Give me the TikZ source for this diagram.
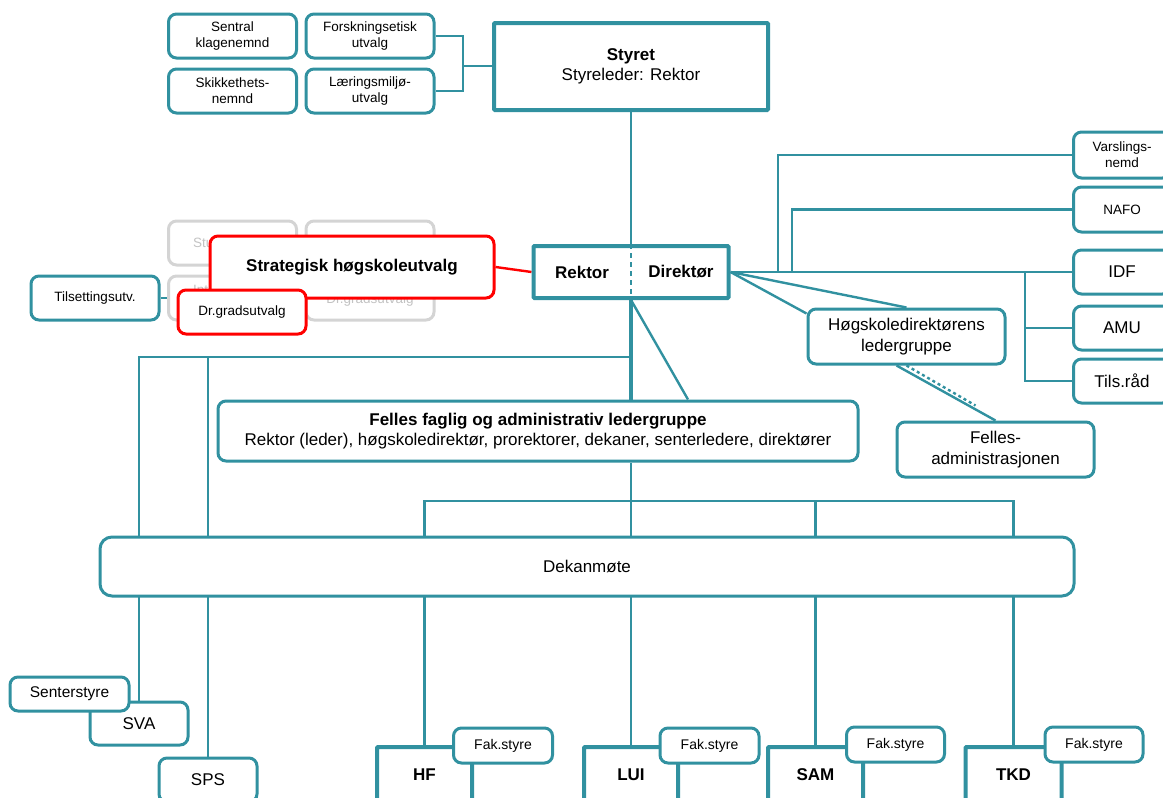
\documentclass[tikz,border=0pt]{standalone}
\usepackage{fontspec}
\setmainfont{Liberation Sans}
\usetikzlibrary{backgrounds}
\definecolor{hteal}{RGB}{49,145,160}
\definecolor{gline}{RGB}{212,212,212}
\definecolor{gtext}{RGB}{195,195,195}

\begin{document}
\begin{tikzpicture}[x=1pt, y=-1pt,
    every node/.style={font=\fontsize{17}{20.5}\selectfont, align=center},
    bx/.style={draw=hteal, line width=3pt, rounded corners=8pt, fill=white, minimum width=128pt, minimum height=44pt, inner sep=1pt},
    sm/.style={font=\fontsize{13.5}{16}\selectfont},
    thk/.style={draw=hteal, line width=4pt, fill=white, rounded corners=1pt, inner sep=1pt},
    gbx/.style={bx, draw=gline},
    gt/.style={sm, text=gtext, inner sep=0pt},
    rbx/.style={bx, draw=red},
    ln/.style={draw=hteal, line width=2.4pt},
    b/.style={font=\fontsize{17}{20.5}\selectfont\bfseries}
]
\useasboundingbox (0,0) rectangle (1163,798);
\clip (0,0) rectangle (1163,798);

% board and its committees
\node[bx, sm] (sk) at (232.5,36) {Sentral\\klagenemnd};
\node[bx, sm] (fe) at (370,36) {Forskningsetisk\\utvalg};
\node[bx, sm] (sn) at (232.5,91) {Skikkethets-\\nemnd};
\node[bx, sm] (lm) at (370,91) {Læringsmiljø-\\utvalg};
\node[thk, minimum width=274pt, minimum height=87pt] (styret) at (631,66.5) {\textbf{Styret}\\Styreleder: Rektor};

% rektor / direktor
\node[thk, minimum width=195pt, minimum height=52pt] (rd) at (631,272) {};
\node[b] (rk) at (582,272) {Rektor};
\node[b] (dir) at (681,272) {Direktør};
\draw[hteal, line width=2pt, dash pattern=on 5pt off 4pt] (rd.north) -- (rd.south);

% faded committees
\node[gbx] (g1) at (232.5,243) {};
\node[gbx] (g2) at (370,243) {};
\node[gbx] (g3) at (232.5,298) {};
\node[gbx] (g4) at (370,298) {};
\node[gt, anchor=west] (g1t) at (193,243) {Stu};
\node[gt, anchor=west] (g3t) at (193,290) {Int};
\node[gt] (g4t) at (370,300) {Dr.gradsutvalg};

\node[rbx, minimum width=284pt, minimum height=62pt, b] (shu) at (352,267) {Strategisk høgskoleutvalg};
\node[rbx, sm] (drg) at (242,312) {Dr.gradsutvalg};
\node[bx, sm] (til) at (95,298) {Tilsettingsutv.};

% right column
\node[bx, sm, minimum width=97pt, minimum height=46pt] (vn) at (1122,155) {Varslings-\\nemd};
\node[bx, sm, minimum width=97pt, minimum height=45pt] (nafo) at (1122,209.5) {NAFO};
\node[bx, minimum width=97pt] (idf) at (1122,272) {IDF};
\node[bx, minimum width=97pt] (amu) at (1122,328) {AMU};
\node[bx, minimum width=97pt] (tr) at (1122,381) {Tils.råd};
\node[bx, minimum width=197pt, minimum height=55pt] (hdl) at (906.5,336.5) {Høgskoledirektørens\\ledergruppe};
\node[bx, minimum width=197pt, minimum height=55pt] (fadm) at (995.5,449.5) {Felles-\\administrasjonen};

% leader groups
\node[bx, minimum width=640pt, minimum height=60pt] (ffal) at (538,431) {\textbf{Felles faglig og administrativ ledergruppe}\\Rektor (leder), høgskoledirektør, prorektorer, dekaner, senterledere, direktører};
\node[bx, rounded corners=12pt, minimum width=974pt, minimum height=59pt] (dek) at (587,566.5) {Dekanmøte};

% faculties and centres
\node[thk, b, minimum width=95pt, minimum height=56pt] (hf) at (424.5,775) {HF};
\node[bx, sm, minimum width=99pt, minimum height=35pt, font=\fontsize{14}{16}\selectfont] (fs1) at (503,745.5) {Fak.styre};
\node[thk, b, minimum width=94pt, minimum height=56pt] (lui) at (631,775) {LUI};
\node[bx, sm, minimum width=99pt, minimum height=35pt, font=\fontsize{14}{16}\selectfont] (fs2) at (709.5,745.5) {Fak.styre};
\node[thk, b, minimum width=95pt, minimum height=56pt] (sam) at (815.5,775) {SAM};
\node[bx, sm, minimum width=98pt, minimum height=35pt, font=\fontsize{14}{16}\selectfont] (fs3) at (895.5,744.5) {Fak.styre};
\node[thk, b, minimum width=96pt, minimum height=56pt] (tkd) at (1013.5,775) {TKD};
\node[bx, sm, minimum width=98pt, minimum height=35pt, font=\fontsize{14}{16}\selectfont] (fs4) at (1094,744.5) {Fak.styre};

\node[bx, minimum width=98pt, minimum height=43pt] (sva) at (139,723.5) {SVA};
\node[bx, minimum width=119pt, minimum height=34pt, font=\fontsize{15.5}{17}\selectfont] (sst) at (69.5,694) {Senterstyre};
\node[bx, minimum width=98pt, minimum height=44pt] (sps) at (208,780) {SPS};

\begin{scope}[on background layer]
\coordinate (cj) at (463,66);
\draw[ln] (fe.east) -| (cj) |- (lm.east);
\draw[ln] (cj) -- (styret.west |- cj);
\draw[ln] (styret.south) -- (rd.north);
\draw[ln] (til.east) -- (g3.west);
\draw[ln, draw=red] (shu.east) -- (rd.west);
% direktor side
\draw[ln] (rd.east) -- (idf.west);
\coordinate (v1) at (778,272);
\coordinate (v2) at (792,272);
\coordinate (v3) at (1025,272);
\draw[ln] (v1) |- (vn.west);
\draw[ln] (v2) |- (nafo.west);
\draw[ln] (v3) |- (amu.west);
\draw[ln] (v3) |- (tr.west);
\draw[ln] (rd.east) -- ([yshift=-6pt]hdl.north west);
\draw[ln] (rd.east) -- (hdl.north);
\draw[ln] ([xshift=-10pt]hdl.south) -- (fadm.north);
\draw[ln, dashed] (hdl.south) -- ([xshift=-20pt, yshift=15pt]fadm.north);
% rektor side
\draw[ln, line width=4pt] (rd.south) -- (rd.south |- ffal.north);
\draw[ln] (rd.south) -- ([xshift=150pt]ffal.north);
\coordinate (h1) at (631,357);
\draw[ln] (h1) -| (sva.north);
\draw[ln] (sps.north |- h1) -- (sps.north);
\draw[ln] (rd.south |- ffal.south) -- (lui.north);
\coordinate (bar) at (631,501);
\draw[ln] (hf.north) |- (bar) -| (tkd.north);
\draw[ln] (sam.north) -- (sam.north |- bar);
\end{scope}
\end{tikzpicture}
\end{document}
